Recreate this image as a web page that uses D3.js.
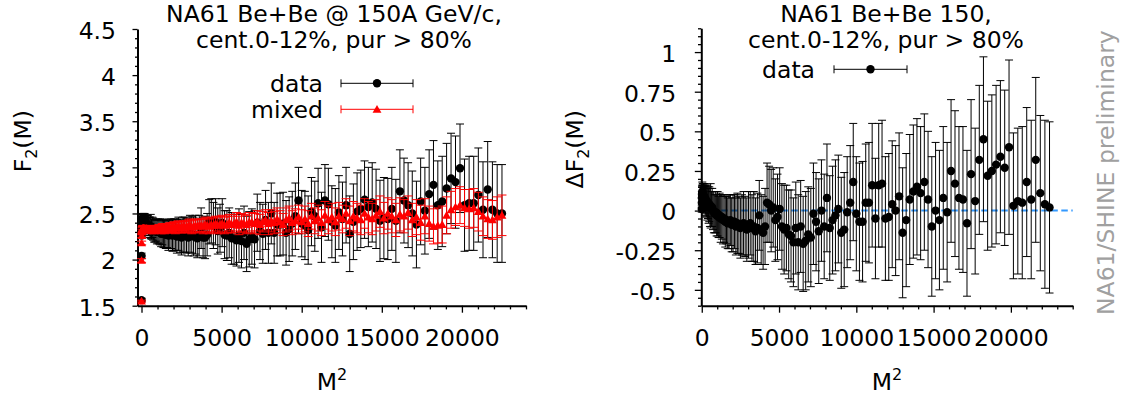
<!DOCTYPE html>
<html>
<head>
<meta charset="utf-8">
<script src="https://cdn.jsdelivr.net/npm/d3@7"></script>
<style>
  html, body { margin: 0; padding: 0; background: #fff; }
  svg { display: block; font-family: "DejaVu Sans", sans-serif; }
</style>
</head>
<body>
<svg id="chart" width="1126" height="401"></svg>
<script>
// M^2 bin centres (M = 1 .. 150)
const massSq = [1,4,9,16,25,36,49,64,81,100,121,144,169,196,225,256,289,324,361,400,
  441,484,529,576,625,676,729,784,841,900,961,1024,1089,1156,1225,1296,1369,1444,1521,1600,
  1681,1764,1849,1936,2025,2116,2209,2304,2401,2500,2601,2704,2809,2916,3025,3136,3249,3364,3481,3600,
  3721,3844,3969,4096,4225,4356,4489,4624,4761,4900,5041,5184,5329,5476,5625,5776,5929,6084,6241,6400,
  6561,6724,6889,7056,7225,7396,7569,7744,7921,8100,8281,8464,8649,8836,9025,9216,9409,9604,9801,10000,
  10201,10404,10609,10816,11025,11236,11449,11664,11881,12100,12321,12544,12769,12996,13225,13456,13689,13924,14161,14400,
  14641,14884,15129,15376,15625,15876,16129,16384,16641,16900,17161,17424,17689,17956,18225,18496,18769,19044,19321,19600,
  19881,20164,20449,20736,21025,21316,21609,21904,22201,22500];

// F2(M) for mixed events
const mixedF2 = [1.55,1.99,2.18,2.26,2.30,2.32,2.33,2.33,2.34,2.34,
  2.34,2.34,2.33,2.34,2.33,2.33,2.34,2.33,2.33,2.33,
  2.33,2.32,2.33,2.33,2.32,2.33,2.33,2.32,2.33,2.33,
  2.33,2.33,2.34,2.33,2.33,2.34,2.34,2.33,2.34,2.34,
  2.34,2.35,2.34,2.35,2.35,2.34,2.35,2.36,2.35,2.35,
  2.36,2.35,2.36,2.36,2.37,2.35,2.36,2.37,2.36,2.37,
  2.37,2.36,2.38,2.37,2.36,2.38,2.37,2.39,2.37,2.38,
  2.39,2.37,2.38,2.40,2.38,2.39,2.41,2.37,2.40,2.39,
  2.38,2.41,2.40,2.39,2.42,2.38,2.41,2.43,2.39,2.42,
  2.40,2.44,2.41,2.38,2.43,2.45,2.40,2.42,2.46,2.41,
  2.44,2.39,2.47,2.42,2.45,2.40,2.48,2.43,2.46,2.41,
  2.47,2.44,2.50,2.42,2.47,2.45,2.43,2.50,2.46,2.44,
  2.48,2.52,2.45,2.50,2.47,2.43,2.49,2.47,2.51,2.43,
  2.46,2.40,2.47,2.39,2.36,2.37,2.38,2.48,2.54,2.57,
  2.59,2.56,2.55,2.56,2.52,2.47,2.44,2.43,2.46,2.48];
const mixedErr = [0.01,0.02,0.02,0.02,0.03,0.03,0.03,0.03,0.03,0.03,
  0.03,0.03,0.03,0.03,0.03,0.03,0.03,0.03,0.03,0.03,
  0.03,0.03,0.03,0.04,0.04,0.04,0.04,0.04,0.04,0.04,
  0.04,0.04,0.04,0.04,0.05,0.05,0.05,0.05,0.05,0.05,
  0.05,0.05,0.05,0.05,0.06,0.06,0.06,0.06,0.06,0.06,
  0.06,0.06,0.06,0.07,0.07,0.07,0.07,0.07,0.07,0.07,
  0.07,0.08,0.08,0.08,0.08,0.08,0.08,0.08,0.09,0.09,
  0.09,0.09,0.09,0.09,0.09,0.10,0.10,0.10,0.10,0.10,
  0.10,0.10,0.11,0.11,0.11,0.11,0.11,0.11,0.12,0.12,
  0.12,0.12,0.12,0.12,0.13,0.13,0.13,0.13,0.13,0.13,
  0.14,0.14,0.14,0.14,0.14,0.14,0.15,0.15,0.15,0.15,
  0.15,0.15,0.16,0.16,0.16,0.16,0.16,0.16,0.17,0.17,
  0.17,0.17,0.17,0.17,0.18,0.18,0.18,0.18,0.18,0.18,
  0.19,0.19,0.19,0.19,0.19,0.19,0.20,0.20,0.20,0.20,
  0.20,0.20,0.21,0.21,0.21,0.21,0.21,0.21,0.22,0.22];

// F2(M) for data
const dataF2 = [1.56,2.04,2.26,2.36,2.41,2.44,2.43,2.44,2.43,2.44,
  2.42,2.43,2.40,2.42,2.39,2.40,2.39,2.39,2.37,2.38,
  2.36,2.36,2.35,2.36,2.33,2.35,2.33,2.31,2.31,2.32,
  2.30,2.31,2.30,2.30,2.28,2.30,2.28,2.28,2.27,2.28,
  2.26,2.28,2.28,2.26,2.27,2.27,2.25,2.28,2.26,2.24,
  2.27,2.27,2.26,2.24,2.28,2.27,2.25,2.27,2.23,2.26,
  2.34,2.24,2.24,2.27,2.41,2.42,2.37,2.41,2.31,2.34,
  2.40,2.27,2.26,2.29,2.23,2.23,2.21,2.26,2.20,2.29,
  2.17,2.22,2.25,2.22,2.40,2.31,2.28,2.43,2.29,2.50,
  2.29,2.38,2.38,2.39,2.29,2.33,2.39,2.47,2.64,2.39,
  2.37,2.32,2.52,2.47,2.61,2.35,2.64,2.60,2.41,2.37,
  2.51,2.44,2.59,2.28,2.41,2.52,2.55,2.65,2.57,2.62,
  2.55,2.42,2.45,2.44,2.55,2.42,2.74,2.64,2.59,2.50,
  2.38,2.63,2.53,2.71,2.81,2.59,2.63,2.77,2.88,2.84,
  2.99,2.59,2.61,2.61,2.70,2.54,2.76,2.54,2.50,2.50];
const dataErr = [0.02,0.03,0.03,0.04,0.05,0.05,0.05,0.06,0.06,0.06,
  0.07,0.07,0.07,0.08,0.08,0.08,0.09,0.09,0.09,0.10,
  0.10,0.10,0.11,0.13,0.11,0.11,0.12,0.12,0.12,0.12,
  0.13,0.13,0.13,0.14,0.14,0.14,0.15,0.15,0.15,0.15,
  0.16,0.16,0.16,0.17,0.17,0.17,0.18,0.18,0.18,0.19,
  0.19,0.19,0.19,0.20,0.20,0.20,0.21,0.21,0.21,0.22,
  0.22,0.22,0.23,0.23,0.24,0.24,0.25,0.25,0.25,0.26,
  0.26,0.26,0.27,0.27,0.28,0.28,0.28,0.29,0.29,0.29,
  0.30,0.30,0.30,0.31,0.31,0.31,0.32,0.32,0.33,0.33,
  0.33,0.34,0.34,0.34,0.35,0.35,0.35,0.36,0.36,0.36,
  0.37,0.37,0.37,0.38,0.38,0.38,0.39,0.39,0.39,0.40,
  0.40,0.40,0.41,0.41,0.41,0.42,0.42,0.42,0.43,0.43,
  0.43,0.44,0.44,0.44,0.45,0.45,0.45,0.46,0.46,0.46,
  0.47,0.47,0.47,0.48,0.48,0.48,0.49,0.49,0.49,0.50,
  0.48,0.50,0.51,0.51,0.51,0.52,0.52,0.52,0.53,0.53];

// Delta F2(M) = data - mixed
const deltaF2 = [0.01,0.05,0.08,0.10,0.11,0.12,0.10,0.11,0.09,0.10,
  0.08,0.09,0.07,0.08,0.06,0.07,0.05,0.06,0.04,0.05,
  0.03,0.04,0.02,0.03,0.01,0.02,0.00,-0.01,-0.02,-0.01,
  -0.03,-0.02,-0.04,-0.03,-0.05,-0.04,-0.06,-0.05,-0.07,-0.06,
  -0.08,-0.07,-0.06,-0.09,-0.08,-0.07,-0.10,-0.08,-0.09,-0.11,
  -0.09,-0.08,-0.10,-0.12,-0.09,-0.08,-0.11,-0.10,-0.13,-0.11,
  -0.03,-0.12,-0.14,-0.10,0.05,0.04,0.00,0.02,-0.06,-0.04,
  0.01,-0.10,-0.12,-0.11,-0.15,-0.16,-0.20,-0.11,-0.20,-0.10,
  -0.21,-0.19,-0.15,-0.17,-0.02,-0.07,-0.13,0.00,-0.10,0.08,
  -0.11,-0.06,-0.03,0.01,-0.14,-0.12,-0.01,0.05,0.18,-0.02,
  -0.07,-0.07,0.05,0.05,0.16,-0.05,0.16,0.17,-0.05,-0.04,
  0.04,0.00,0.09,-0.14,-0.06,0.07,0.12,0.15,0.11,0.18,
  0.07,-0.10,0.00,-0.06,0.08,-0.01,0.25,0.17,0.08,0.07,
  -0.08,0.23,0.06,0.32,0.45,0.22,0.25,0.29,0.34,0.27,
  0.40,0.03,0.06,0.05,0.18,0.07,0.32,0.11,0.04,0.02];
const deltaErr = [0.02,0.03,0.04,0.05,0.05,0.06,0.06,0.06,0.07,0.07,
  0.07,0.08,0.08,0.08,0.09,0.09,0.09,0.10,0.10,0.10,
  0.11,0.11,0.12,0.14,0.11,0.12,0.12,0.13,0.12,0.13,
  0.13,0.14,0.13,0.14,0.15,0.14,0.15,0.15,0.16,0.15,
  0.16,0.17,0.16,0.17,0.18,0.17,0.18,0.19,0.18,0.19,
  0.19,0.20,0.19,0.20,0.21,0.20,0.21,0.22,0.21,0.22,
  0.22,0.22,0.23,0.24,0.25,0.24,0.26,0.25,0.26,0.27,
  0.26,0.27,0.28,0.27,0.28,0.29,0.28,0.29,0.30,0.29,
  0.30,0.31,0.30,0.31,0.32,0.31,0.33,0.32,0.33,0.34,
  0.33,0.34,0.35,0.34,0.35,0.36,0.35,0.36,0.37,0.36,
  0.37,0.38,0.37,0.38,0.39,0.38,0.39,0.40,0.39,0.40,
  0.40,0.41,0.40,0.41,0.42,0.41,0.42,0.43,0.42,0.43,
  0.43,0.44,0.43,0.44,0.45,0.44,0.45,0.46,0.45,0.46,
  0.46,0.47,0.46,0.47,0.52,0.47,0.48,0.50,0.48,0.49,
  0.55,0.46,0.46,0.48,0.47,0.50,0.52,0.49,0.53,0.54];

// axis ticks and labels
const xMajorTicks = [0, 5000, 10000, 15000, 20000];
const f2MajorTicks = [1.5, 2, 2.5, 3, 3.5, 4, 4.5];
const dF2MajorTicks = [-0.5, -0.25, 0, 0.25, 0.5, 0.75, 1];
const dF2TickLabels = ["-0.5", "-0.25", "0", "0.25", "0.5", "0.75", "1"];

const leftTitle = ["NA61 Be+Be @ 150A GeV/c,", "cent.0-12%, pur > 80%"];
const rightTitle = ["NA61 Be+Be 150,", "cent.0-12%, pur > 80%"];
const seriesNames = ["data", "mixed"];
const stamp = "NA61/SHINE preliminary";

const FS = 23.5;
const svg = d3.select("#chart");

const xL = d3.scaleLinear().domain([-250, 24000]).range([137.5, 526]);
const yL = d3.scaleLinear().domain([1.5, 4.5]).range([305.7, 29]);
const xR = d3.scaleLinear().domain([-30, 24000]).range([701.3, 1072.7]);
const yR = d3.scaleLinear().domain([-0.6, 1.15]).range([305.7, 28.3]);

const xMinor = d3.range(1, 25).map(k => k * 1000).filter(v => v % 5000 !== 0);
const f2Minor = d3.range(15, 46).map(k => k / 10).filter(v => !f2MajorTicks.includes(v));
const dMinor = d3.range(-12, 24).map(k => +(k * 0.05).toFixed(2)).filter(v => !dF2MajorTicks.includes(v));

function styleAxis(g) {
  g.select(".domain").attr("stroke", "#000").attr("stroke-width", 2);
  g.selectAll(".tick line").attr("stroke", "#000").attr("stroke-width", 1.3);
  g.selectAll(".tick text").attr("font-family", '"DejaVu Sans", sans-serif')
    .attr("font-size", FS).attr("fill", "#000");
}

function drawAxes(x, y, yMajor, yMinor, yFormat, opt) {
  const y0 = y.range()[0];
  const x0 = x.range()[0];
  // minor ticks first
  svg.append("g").attr("transform", `translate(0,${y0})`)
    .call(d3.axisBottom(x).tickValues(xMinor).tickSize(3.7).tickFormat(""))
    .call(g => { g.select(".domain").remove(); styleAxis(g); });
  svg.append("g").attr("transform", `translate(${x0},0)`)
    .call(d3.axisLeft(y).tickValues(yMinor).tickSize(opt.yMinorLen).tickFormat(""))
    .call(g => { g.select(".domain").remove(); styleAxis(g); });
  svg.append("g").attr("transform", `translate(0,${y0})`)
    .call(d3.axisBottom(x).tickValues(xMajorTicks).tickSize(7).tickSizeOuter(0)
      .tickPadding(17).tickFormat(d3.format("d")))
    .call(styleAxis);
  svg.append("g").attr("transform", `translate(${x0},0)`)
    .call(d3.axisLeft(y).tickValues(yMajor).tickSize(opt.yMajorLen).tickSizeOuter(0)
      .tickPadding(opt.yPad).tickFormat(yFormat))
    .call(styleAxis)
    .call(g => g.selectAll(".tick text").attr("dy", "0.4em"));
}

function errorBars(g, rows, x, y, color, cap) {
  const sel = g.append("g").attr("stroke", color).attr("stroke-width", 1).attr("fill", "none");
  rows.forEach(d => {
    const px = x(d.x), top = y(d.v + d.e), bot = y(d.v - d.e);
    sel.append("line").attr("x1", px).attr("x2", px).attr("y1", top).attr("y2", bot);
    sel.append("line").attr("x1", px - cap).attr("x2", px + cap).attr("y1", top).attr("y2", top);
    sel.append("line").attr("x1", px - cap).attr("x2", px + cap).attr("y1", bot).attr("y2", bot);
  });
}

const dataRows = massSq.map((m, i) => ({ x: m, v: dataF2[i], e: dataErr[i] }));
const mixedRows = massSq.map((m, i) => ({ x: m, v: mixedF2[i], e: mixedErr[i] }));
const deltaRows = massSq.map((m, i) => ({ x: m, v: deltaF2[i], e: deltaErr[i] }));

const tri = d3.symbol().type(d3.symbolTriangle).size(34);

// ---------- left panel: F2(M) ----------
drawAxes(xL, yL, f2MajorTicks, f2Minor, d3.format("~g"), { yMajorLen: 5, yMinorLen: 2.5, yPad: 16.5 });

const gL = svg.append("g");
errorBars(gL, dataRows, xL, yL, "#000", 4);
gL.append("g").selectAll("circle").data(dataRows).join("circle")
  .attr("cx", d => xL(d.x)).attr("cy", d => yL(d.v)).attr("r", 4.2).attr("fill", "#000");
errorBars(gL, mixedRows, xL, yL, "#ff0000", 4.5);
gL.append("g").selectAll("path").data(mixedRows).join("path")
  .attr("d", tri).attr("transform", d => `translate(${xL(d.x)},${yL(d.v) + 0.8})`)
  .attr("fill", "#ff0000");

// ---------- right panel: Delta F2(M) ----------
drawAxes(xR, yR, dF2MajorTicks, dMinor, (d, i) => dF2TickLabels[i], { yMajorLen: 6.5, yMinorLen: 3.3, yPad: 18.5 });

svg.append("line")
  .attr("x1", xR.range()[0]).attr("x2", xR.range()[1])
  .attr("y1", yR(0)).attr("y2", yR(0))
  .attr("stroke", "#3399ff").attr("stroke-width", 2).attr("stroke-dasharray", "6.5,3.5");

const gR = svg.append("g");
errorBars(gR, deltaRows, xR, yR, "#000", 4);
gR.append("g").selectAll("circle").data(deltaRows).join("circle")
  .attr("cx", d => xR(d.x)).attr("cy", d => yR(d.v)).attr("r", 4.2).attr("fill", "#000");

// ---------- titles ----------
function title(lines, cx) {
  const t = svg.append("g").attr("font-size", FS).attr("text-anchor", "middle").attr("fill", "#000");
  t.append("text").attr("x", cx).attr("y", 21.5).text(lines[0]);
  t.append("text").attr("x", cx).attr("y", 47.5).text(lines[1]);
}
title(leftTitle, 334);
title(rightTitle, 886);

// ---------- legends ----------
function legendRow(y0, label, color, marker, textX, x1, x2) {
  const g = svg.append("g");
  g.append("text").attr("x", textX).attr("y", y0 + 8.3).attr("text-anchor", "end")
    .attr("font-size", FS).attr("fill", "#000").text(label);
  const s = g.append("g").attr("stroke", color).attr("stroke-width", 1);
  s.append("line").attr("x1", x1).attr("x2", x2).attr("y1", y0).attr("y2", y0);
  s.append("line").attr("x1", x1).attr("x2", x1).attr("y1", y0 - 4).attr("y2", y0 + 4);
  s.append("line").attr("x1", x2).attr("x2", x2).attr("y1", y0 - 4).attr("y2", y0 + 4);
  const mx = (x1 + x2) / 2;
  if (marker === "circle") {
    g.append("circle").attr("cx", mx).attr("cy", y0).attr("r", 4.2).attr("fill", color);
  } else {
    g.append("path").attr("d", tri).attr("transform", `translate(${mx},${y0 + 0.8})`).attr("fill", color);
  }
}
legendRow(83.3, seriesNames[0], "#000", "circle", 323, 341, 413);
legendRow(109.3, seriesNames[1], "#ff0000", "triangle", 323, 341, 413);
legendRow(69.3, seriesNames[0], "#000", "circle", 815, 834, 907);

// ---------- axis titles ----------
function yTitle(x, yEnd, delta) {
  const t = svg.append("text").attr("transform", `translate(${x},${yEnd}) rotate(-90)`)
    .attr("text-anchor", "end").attr("font-size", FS).attr("fill", "#000");
  t.append("tspan").text((delta ? "\u0394" : "") + "F");
  t.append("tspan").attr("font-size", 16).attr("dy", 6).text("2");
  t.append("tspan").attr("dy", -6).text("(M)");
}
yTitle(31, 110, false);
yTitle(583, 110, true);

function xTitle(cx) {
  const t = svg.append("text").attr("x", cx).attr("y", 390).attr("text-anchor", "middle")
    .attr("font-size", FS).attr("fill", "#000");
  t.append("tspan").text("M");
  t.append("tspan").attr("font-size", 16).attr("dy", -10).text("2");
}
xTitle(332);
xTitle(887);

// ---------- preliminary stamp ----------
svg.append("text").attr("transform", "translate(1114,315) rotate(-90)")
  .attr("font-size", FS).attr("fill", "#a0a0a0").text(stamp);
</script>
</body>
</html>
